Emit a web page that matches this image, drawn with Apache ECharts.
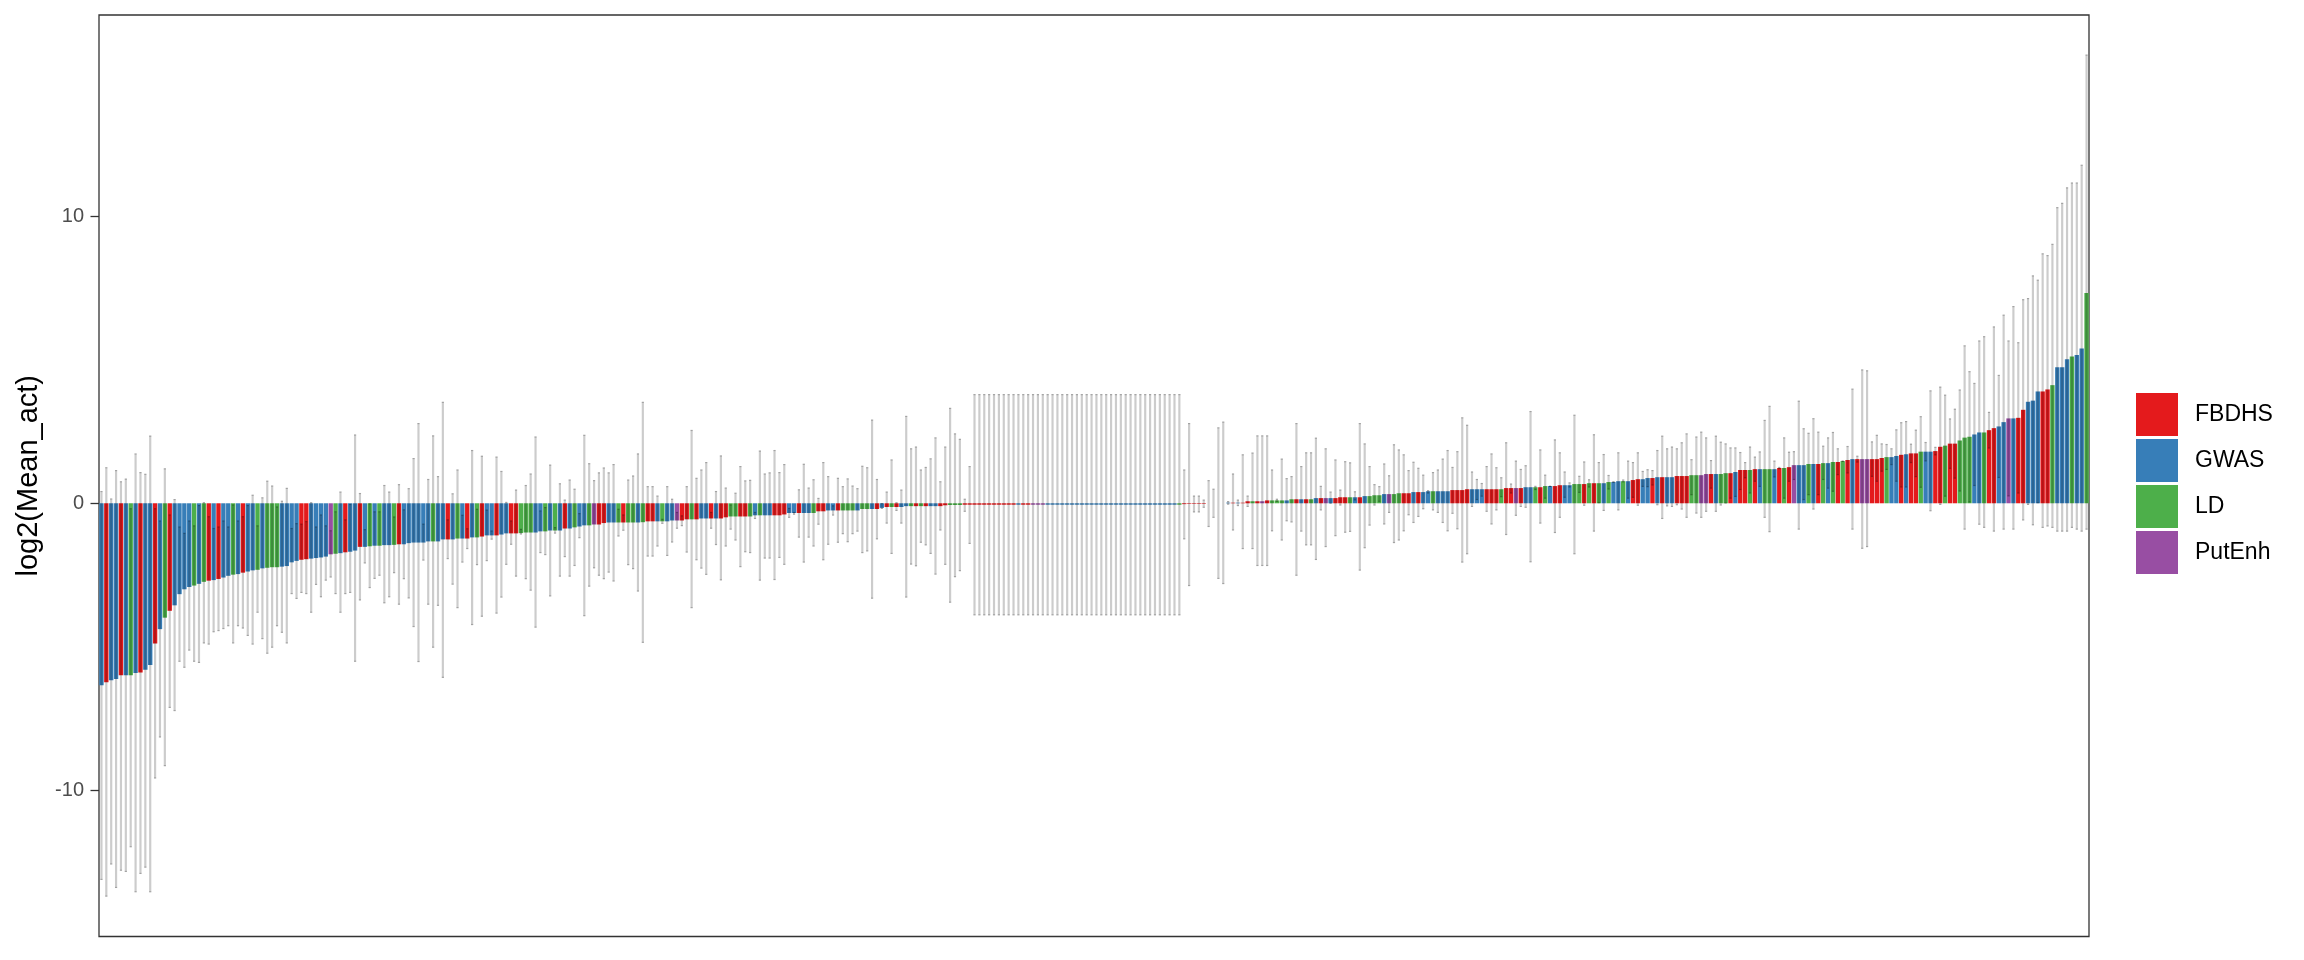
<!DOCTYPE html>
<html>
<head>
<meta charset="utf-8">
<script src="https://cdn.jsdelivr.net/npm/echarts@6/dist/echarts.min.js"></script>
<style>
  html, body { margin: 0; padding: 0; background: #fff; }
  #chart { width: 2304px; height: 960px; }
</style>
</head>
<body>
<div id="chart"></div>
<script>
// category names and colours (ggplot Set1)
var categories = ['FBDHS', 'GWAS', 'LD', 'PutEnh'];
var catCodes = { F: 'FBDHS', G: 'GWAS', L: 'LD', P: 'PutEnh' };
var catColors = { FBDHS: '#E41A1C', GWAS: '#377EB8', LD: '#4DAF4A', PutEnh: '#984EA3' };

// group of every bar, one letter per bar, sorted by value
var groupCodes = (
  'GFGGFGLGFG' + 'GFGLFGGGGL' + 'GLFGFGGLGF' + 'GGLGLLLGGG' + 'GFFGGGGPLG' +
  'FGGFGLGLGG' + 'LFGGGGGGLG' + 'GFGLGFGLFG' + 'GFGGFFLLLG' + 'GLGLGFGLGG' +
  'LPFFGGLFLL' + 'GLFFGLGGPF' + 'FLFGGFGFFL' + 'LFFLGLGGFF' + 'FGGFGGLFFG' +
  'GFLLLGLLGF' + 'GFLFGGLFLF' + 'GGFFLLLFFF' + 'FFFFFFFFGF' + 'FPPPGGGGGG' +
  'GGGGGGGGGG' + 'GGGGGGGGGG' + 'GLFFFFFGGG' + 'GGFGFFLFPF' + 'LLLGLFGFLG' +
  'FPGFFFLGFG' + 'LLLGPLLFFG' + 'FGGLGGGFFF' + 'FGGGFFFLFF' + 'PFGGLFLGFF' +
  'GGLLFLFLGL' + 'GGLGFFGGFG' + 'FGGFFFLLPP' + 'FGLLFGFFLF' + 'GLLGFLFPGG' +
  'LGFLGLFLFG' + 'FPPFFFLGGF' + 'GFFLGGFFLF' + 'FLLLGGLFFG' + 'GPGFFGGGFF' +
  'LGGGLGGL'
).split('');

// log2(Mean_act) of every bar
var meanAct = [
  -6.35,-6.24,-6.17,-6.13,-6.0,-6.0,-6.0,-5.92,-5.9,-5.81,
  -5.64,-4.89,-4.39,-3.99,-3.75,-3.56,-3.17,-3.0,-2.92,-2.87,
  -2.81,-2.74,-2.7,-2.68,-2.64,-2.59,-2.53,-2.49,-2.47,-2.42,
  -2.38,-2.34,-2.32,-2.27,-2.25,-2.23,-2.23,-2.21,-2.19,-2.06,
  -2.01,-1.97,-1.95,-1.93,-1.91,-1.89,-1.86,-1.78,-1.76,-1.74,
  -1.71,-1.69,-1.65,-1.52,-1.52,-1.5,-1.48,-1.48,-1.46,-1.46,
  -1.45,-1.43,-1.43,-1.39,-1.37,-1.37,-1.37,-1.33,-1.33,-1.33,
  -1.26,-1.26,-1.26,-1.23,-1.23,-1.23,-1.19,-1.19,-1.16,-1.12,
  -1.12,-1.12,-1.09,-1.05,-1.05,-1.05,-1.04,-1.02,-1.02,-1.02,
  -0.98,-0.98,-0.95,-0.95,-0.95,-0.88,-0.88,-0.84,-0.81,-0.77,
  -0.77,-0.74,-0.74,-0.69,-0.67,-0.67,-0.67,-0.67,-0.67,-0.67,
  -0.67,-0.66,-0.63,-0.63,-0.63,-0.63,-0.63,-0.6,-0.6,-0.6,
  -0.56,-0.56,-0.56,-0.53,-0.53,-0.53,-0.53,-0.53,-0.49,-0.46,
  -0.46,-0.46,-0.46,-0.46,-0.42,-0.42,-0.42,-0.42,-0.42,-0.42,
  -0.39,-0.34,-0.34,-0.34,-0.34,-0.34,-0.34,-0.28,-0.28,-0.25,
  -0.25,-0.25,-0.25,-0.25,-0.25,-0.25,-0.2,-0.2,-0.2,-0.2,
  -0.16,-0.13,-0.13,-0.13,-0.13,-0.1,-0.1,-0.1,-0.1,-0.1,
  -0.1,-0.1,-0.1,-0.07,-0.06,-0.06,-0.06,-0.05,-0.05,-0.05,
  -0.05,-0.05,-0.05,-0.05,-0.05,-0.05,-0.05,-0.05,-0.05,-0.05,
  -0.05,-0.05,-0.05,-0.05,-0.05,-0.05,-0.05,-0.05,-0.05,-0.05,
  -0.05,-0.05,-0.05,-0.05,-0.05,-0.05,-0.05,-0.05,-0.05,-0.05,
  -0.05,-0.05,-0.05,-0.05,-0.05,-0.05,-0.05,-0.05,-0.05,-0.05,
  -0.05,-0.05,-0.03,-0.02,-0.02,-0.02,-0.02,0,0,0,
  0,0.02,0.02,0.02,0.02,0.07,0.07,0.07,0.07,0.1,
  0.1,0.1,0.1,0.1,0.14,0.14,0.14,0.14,0.14,0.18,
  0.18,0.18,0.18,0.18,0.21,0.21,0.21,0.21,0.21,0.25,
  0.25,0.28,0.28,0.32,0.32,0.32,0.35,0.35,0.35,0.39,
  0.39,0.39,0.42,0.42,0.42,0.42,0.42,0.46,0.46,0.46,
  0.49,0.49,0.49,0.49,0.49,0.49,0.49,0.49,0.53,0.53,
  0.53,0.53,0.56,0.56,0.56,0.56,0.6,0.6,0.6,0.63,
  0.63,0.63,0.67,0.67,0.67,0.7,0.7,0.7,0.7,0.74,
  0.74,0.77,0.77,0.77,0.81,0.84,0.84,0.88,0.88,0.91,
  0.91,0.91,0.91,0.95,0.95,0.95,0.98,0.98,0.98,1.02,
  1.02,1.02,1.02,1.05,1.05,1.09,1.16,1.16,1.16,1.19,
  1.19,1.19,1.19,1.19,1.23,1.23,1.26,1.33,1.33,1.33,
  1.37,1.37,1.37,1.4,1.4,1.44,1.44,1.47,1.51,1.54,
  1.54,1.54,1.54,1.54,1.54,1.58,1.61,1.61,1.65,1.69,
  1.71,1.74,1.74,1.8,1.8,1.8,1.82,1.97,2.01,2.08,
  2.08,2.19,2.29,2.32,2.4,2.47,2.47,2.55,2.62,2.68,
  2.83,2.96,2.96,2.98,3.26,3.54,3.58,3.9,3.9,3.97,
  4.12,4.74,4.74,5.02,5.12,5.17,5.4,7.33
];

// upper end of every error bar
var errHigh = [
  0.43,1.26,0.17,1.16,0.77,0.86,-0.17,1.74,1.09,1.03,
  2.36,-0.17,-0.6,1.22,-0.39,0.15,-0.81,-1.03,-0.6,-0.77,
  -0.06,0.04,-0.45,-0.86,-0.81,-0.6,-0.81,-0.04,-0.6,-0.45,
  -0.06,0.3,-0.77,0.21,0.79,0.62,-0.11,0.09,0.54,-0.86,
  -0.69,-0.71,-0.62,0.04,-0.81,-0.39,-0.77,-0.94,-0.28,0.41,
  -0.56,-0.02,2.4,0.36,-0.9,0,-0.28,-0.28,0.64,0.41,
  -0.46,0.67,-0.21,0.53,1.58,2.8,-0.71,0.85,2.37,0.95,
  3.54,-0.56,0.35,1.18,-0.4,-0.87,1.86,-0.19,1.66,-0.22,
  -0.95,1.63,1.13,0.05,-0.6,0.48,-0.89,0.64,1.04,2.33,
  -0.25,-0.13,1.35,-0.83,0.7,0.13,0.83,0.51,-0.34,2.39,
  1.4,0.81,1.08,1.25,1.08,1.37,-0.19,-0.39,0.83,0.97,
  1.74,3.54,0.6,0.6,0.27,-0.54,0.6,0.16,-0.3,-0.42,
  0.6,2.56,0.89,1.18,1.44,-0.3,0.43,1.67,0.55,-0.04,
  0.37,1.3,0.8,0.82,-0.3,1.84,1.04,1.08,1.86,1.09,
  1.37,-0.16,-0.3,0.49,1.38,0.55,0.84,0.19,1.44,0.95,
  -0.07,0.89,0.6,0.87,0.62,0.53,1.31,1.26,2.92,0.85,
  0.01,0.41,1.53,0.04,0.48,3.05,1.92,1.98,1.18,1.27,
  1.57,2.3,0.77,1.98,3.33,2.44,2.25,0.16,1.3,3.81,
  3.81,3.81,3.81,3.81,3.81,3.81,3.81,3.81,3.81,3.81,
  3.81,3.81,3.81,3.81,3.81,3.81,3.81,3.81,3.81,3.81,
  3.81,3.81,3.81,3.81,3.81,3.81,3.81,3.81,3.81,3.81,
  3.81,3.81,3.81,3.81,3.81,3.81,3.81,3.81,3.81,3.81,
  3.81,3.81,1.18,2.8,0.27,0.27,0.13,0.81,0.51,2.65,
  2.85,0.08,1.04,0.13,1.71,0.27,1.77,2.37,2.37,2.37,
  1.18,0.16,1.56,0.88,0.95,2.8,1.3,1.78,1.78,2.29,
  0.61,1.92,0.41,1.53,0.48,1.47,1.43,0.42,2.8,2.09,
  1.3,0.67,0.6,1.39,0.98,2.06,1.88,1.71,1.16,1.45,
  1.24,1.0,0.46,1.09,1.18,1.56,1.86,1.27,1.82,3.0,
  2.74,1.11,0.85,0.71,1.3,1.74,1.26,0.91,2.13,0.69,
  1.49,1.2,1.33,3.22,0.61,1.88,1.0,0.61,2.23,1.78,
  1.11,0.73,3.09,0.96,1.46,0.84,2.41,1.44,1.72,0.99,
  0.77,1.78,0.83,1.49,1.44,1.78,1.13,1.19,1.16,1.86,
  2.36,1.92,1.98,1.92,2.13,2.44,1.54,2.33,2.5,2.3,
  1.51,2.36,2.15,2.09,1.95,1.95,1.79,1.44,1.98,1.63,
  1.81,2.91,3.4,1.49,1.27,2.3,1.8,1.82,3.58,2.62,
  2.46,2.97,2.5,2.01,2.3,2.49,1.92,1.49,2.0,4.0,
  1.66,4.67,4.64,2.16,2.39,2.09,2.07,1.92,2.58,2.83,
  2.87,2.08,2.57,3.04,2.14,3.94,1.97,4.07,3.79,2.96,
  3.3,3.97,5.51,4.61,4.2,5.68,5.83,3.19,6.17,4.48,
  6.58,5.68,6.88,5.62,7.12,7.16,7.95,7.8,8.72,8.66,
  9.05,10.33,10.48,11.02,11.19,11.19,11.81,15.65
];

// lower end of every error bar
var errLow = [
  -13.14,-13.72,-12.6,-13.42,-12.82,-12.86,-12.0,-13.57,-12.93,-12.71,
  -13.57,-9.6,-8.17,-9.17,-7.14,-7.25,-5.53,-5.74,-5.14,-5.53,
  -5.57,-4.89,-4.93,-4.5,-4.46,-4.39,-4.29,-4.89,-4.29,-4.37,
  -4.63,-4.93,-3.82,-4.74,-5.25,-5.04,-4.29,-4.52,-4.89,-3.17,
  -3.34,-3.13,-3.17,-3.82,-2.85,-3.28,-2.7,-2.59,-3.17,-3.82,
  -3.17,-3.13,-5.53,-3.39,-2.1,-2.96,-2.64,-2.53,-3.49,-3.28,
  -2.44,-3.54,-2.65,-3.32,-4.32,-5.54,-2.0,-3.54,-5.04,-3.58,
  -6.09,-1.95,-2.84,-3.66,-2.07,-1.6,-4.25,-2.16,-3.96,-2.02,
  -1.27,-3.85,-3.29,-2.15,-1.45,-2.56,-1.09,-2.65,-3.05,-4.34,
  -1.74,-1.81,-3.25,-1.06,-2.56,-1.88,-2.56,-2.19,-1.22,-3.94,
  -2.91,-2.27,-2.53,-2.65,-2.42,-2.73,-1.16,-0.96,-2.16,-2.3,
  -3.08,-4.87,-1.86,-1.86,-1.51,-0.72,-1.84,-1.37,-0.89,-0.8,
  -1.72,-3.66,-1.99,-2.28,-2.5,-0.89,-1.46,-2.69,-1.51,-0.92,
  -1.3,-2.23,-1.71,-1.74,-0.55,-2.7,-1.93,-1.93,-2.68,-1.91,
  -2.15,-0.51,-0.4,-1.2,-2.07,-1.2,-1.51,-0.75,-1.99,-1.45,
  -0.43,-1.38,-1.08,-1.36,-1.08,-0.99,-1.74,-1.68,-3.33,-1.26,
  -0.2,-0.71,-1.77,-0.27,-0.71,-3.29,-2.14,-2.2,-1.38,-1.47,
  -1.77,-2.49,-0.95,-2.15,-3.47,-2.58,-2.37,-0.3,-1.42,-3.91,
  -3.91,-3.91,-3.91,-3.91,-3.91,-3.91,-3.91,-3.91,-3.91,-3.91,
  -3.91,-3.91,-3.91,-3.91,-3.91,-3.91,-3.91,-3.91,-3.91,-3.91,
  -3.91,-3.91,-3.91,-3.91,-3.91,-3.91,-3.91,-3.91,-3.91,-3.91,
  -3.91,-3.91,-3.91,-3.91,-3.91,-3.91,-3.91,-3.91,-3.91,-3.91,
  -3.91,-3.91,-1.26,-2.89,-0.32,-0.32,-0.16,-0.83,-0.51,-2.64,
  -2.82,-0.05,-0.95,-0.1,-1.6,-0.13,-1.6,-2.19,-2.19,-2.19,
  -0.98,0.05,-1.3,-0.63,-0.67,-2.53,-0.99,-1.47,-1.47,-1.98,
  -0.25,-1.53,-0.02,-1.15,-0.08,-1.03,-1.0,0.1,-2.35,-1.57,
  -0.78,-0.08,0.05,-0.74,-0.34,-1.39,-1.3,-0.98,-0.42,-0.69,
  -0.48,-0.21,0.34,-0.25,-0.34,-0.69,-0.98,-0.37,-0.91,-2.07,
  -1.78,-0.13,0.11,0.23,-0.3,-0.74,-0.25,0.21,-1.11,0.34,
  -0.44,-0.13,-0.16,-2.06,0.46,-0.71,0.16,0.57,-1.04,-0.51,
  0.19,0.55,-1.78,0.36,-0.09,0.55,-0.99,0.0,-0.27,0.48,
  0.71,-0.25,0.73,0.16,0.19,-0.09,0.57,0.56,0.62,-0.07,
  -0.55,-0.11,-0.13,-0.07,-0.22,-0.51,0.28,-0.36,-0.51,-0.3,
  0.51,-0.3,-0.08,-0.01,0.16,0.22,0.46,0.87,0.34,0.75,
  0.57,-0.51,-1.01,0.9,1.19,0.16,0.75,0.81,-0.92,0.11,
  0.28,-0.22,0.28,0.81,0.51,0.4,0.98,1.44,1.04,-0.92,
  1.42,-1.59,-1.53,0.92,0.75,1.1,1.16,1.33,0.75,0.55,
  0.55,1.4,0.91,0.54,1.46,-0.28,1.67,-0.06,0.23,1.2,
  0.86,0.41,-0.92,0.03,0.6,-0.75,-0.86,1.91,-0.99,0.88,
  -0.92,0.24,-0.92,0.34,-0.6,-0.06,-0.77,0.0,-0.86,-0.81,
  -0.86,-0.99,-0.99,-0.99,-0.86,-0.92,-0.99,-0.92
];

var yTicks = [-10, 0, 10];

var FONT = '"Liberation Sans", Arial, Helvetica, sans-serif';

var chart = echarts.init(document.getElementById('chart'), null, { renderer: 'canvas' });

var xCats = meanAct.map(function (v, i) { return String(i + 1); });

var barSeries = categories.map(function (cat) {
  return {
    type: 'bar',
    name: cat,
    data: meanAct.map(function (v, i) {
      return catCodes[groupCodes[i]] === cat ? v : '-';
    }),
    barWidth: '90%',
    barGap: '-100%',
    itemStyle: { color: catColors[cat] },
    silent: true,
    z: 2
  };
});

var errSeries = {
  type: 'custom',
  name: 'err',
  silent: true,
  z: 3,
  encode: { x: 0, y: [1, 2] },
  data: meanAct.map(function (v, i) { return [i, errLow[i], errHigh[i]]; }),
  renderItem: function (params, api) {
    var i = api.value(0);
    var top = api.coord([i, api.value(2)]);
    var bot = api.coord([i, api.value(1)]);
    var w = 2.2;
    var fill = 'rgba(0,0,0,0.2)';
    return {
      type: 'group',
      children: [
        { type: 'rect', shape: { x: top[0] - w / 2, y: top[1], width: w, height: bot[1] - top[1] }, style: { fill: fill } },
        { type: 'rect', shape: { x: top[0] - w / 2, y: top[1], width: w, height: 1.2 }, style: { fill: fill } },
        { type: 'rect', shape: { x: bot[0] - w / 2, y: bot[1] - 1.2, width: w, height: 1.2 }, style: { fill: fill } }
      ]
    };
  }
};

chart.setOption({
  animation: false,
  backgroundColor: '#ffffff',
  textStyle: { fontFamily: FONT },
  grid: {
    left: 99, right: 215, top: 15, bottom: 23.5,
    show: true, borderColor: '#333333', borderWidth: 1.3, backgroundColor: 'transparent'
  },
  legend: {
    data: categories,
    orient: 'vertical',
    left: 2136,
    top: 393,
    padding: 0,
    itemWidth: 42,
    itemHeight: 43,
    itemGap: 3,
    icon: 'rect',
    selectedMode: false,
    textStyle: { fontFamily: FONT, fontSize: 23, color: '#000000', padding: [0, 0, 0, 12] }
  },
  xAxis: {
    type: 'category',
    data: xCats,
    boundaryGap: true,
    axisLine: { show: false },
    axisTick: { show: false },
    axisLabel: { show: false },
    splitLine: { show: false }
  },
  yAxis: {
    type: 'value',
    min: -15.11,
    max: 17.03,
    name: 'log2(Mean_act)',
    nameLocation: 'middle',
    nameGap: 56,
    nameTextStyle: { fontFamily: FONT, fontSize: 29, color: '#000000' },
    axisLine: { show: false },
    splitLine: { show: false },
    axisTick: {
      show: true, length: 8.5, customValues: yTicks,
      lineStyle: { color: '#333333', width: 1.3 }
    },
    axisLabel: {
      customValues: yTicks, margin: 15,
      fontFamily: FONT, fontSize: 20, color: '#4D4D4D'
    }
  },
  series: barSeries.concat([errSeries])
});
</script>
</body>
</html>
